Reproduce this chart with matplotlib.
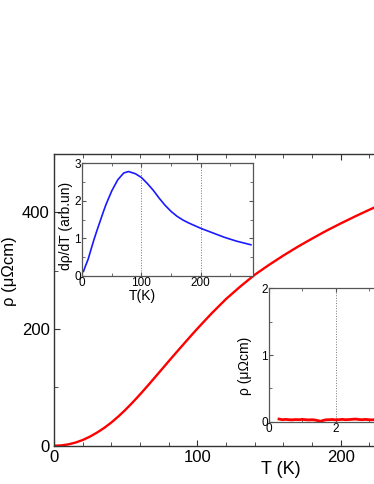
import matplotlib
matplotlib.use("Agg")
import matplotlib.pyplot as plt
from matplotlib.ticker import MultipleLocator

plt.rcParams['font.family'] = ['Liberation Sans', 'DejaVu Sans']

# main curve: resistivity vs temperature
T_main = [0, 5, 10, 15, 20, 25, 30, 35, 40, 45, 50, 55, 60, 65, 70, 75, 80, 85, 90,
          95, 100, 110, 120, 130, 140, 150, 160, 170, 180, 190, 200, 210, 220, 230,
          240, 250, 260, 270, 280, 290]
rho_main = [0, 0.5, 2.3, 5.4, 9.8, 15.5, 22.5, 30.5, 39.8, 50.4, 62, 74.6, 87.9, 101.8,
            116, 130.4, 144.8, 159, 173, 187, 200.7, 227, 251.5, 273, 293, 310, 326,
            341, 355, 368.5, 381, 393, 404.5, 415.5, 426, 436, 445.5, 454.5, 463, 471]

# inset: derivative
T_der = [2, 5, 10, 15, 20, 25, 30, 35, 40, 50, 60, 70, 78, 90, 100, 110, 120, 130, 140,
         150, 160, 170, 180, 190, 200, 210, 220, 230, 240, 250, 260, 270, 280, 285]
drho = [0.12, 0.25, 0.45, 0.72, 0.98, 1.22, 1.45, 1.68, 1.9, 2.27, 2.56, 2.74, 2.78, 2.72,
        2.62, 2.46, 2.28, 2.07, 1.88, 1.72, 1.59, 1.49, 1.41, 1.34, 1.27, 1.21, 1.15,
        1.09, 1.03, 0.98, 0.93, 0.89, 0.85, 0.83]

# inset: low temperature resistivity
T_low = [0.3, 0.4, 0.5, 0.6, 0.7, 0.8, 0.9, 1.0, 1.1, 1.2, 1.3, 1.4, 1.5, 1.55, 1.6, 1.7,
         1.8, 1.9, 2.0, 2.1, 2.2, 2.3, 2.4, 2.5, 2.6, 2.7, 2.8, 2.9, 3.0, 3.1, 3.2, 3.3,
         3.4, 3.5, 3.6, 3.7, 3.8, 3.9]
rho_low = [0.04, 0.03, 0.035, 0.03, 0.028, 0.033, 0.03, 0.035, 0.03, 0.027, 0.03, 0.024,
           0.012, 0.005, 0.015, 0.028, 0.03, 0.033, 0.028, 0.03, 0.035, 0.03, 0.032,
           0.036, 0.04, 0.033, 0.03, 0.035, 0.03, 0.028, 0.033, 0.03, 0.035, 0.03, 0.032,
           0.03, 0.034, 0.03]

fig = plt.figure(figsize=(3.74, 4.84), dpi=100)

frame = '#333333'

def style(ax, c, lw):
    for s in ax.spines.values():
        s.set_color(c)
        s.set_linewidth(lw)
    ax.tick_params(which='both', direction='in', top=True, right=True, color=c)

# main axes runs past the right edge, like the cropped original
ax = fig.add_axes([0.1444, 0.0791, 1.15, 0.6027])
ax.plot(T_main, rho_main, color='#ff0000', lw=1.7)
ax.set_xlim(0, 300)
ax.set_ylim(0, 500)
ax.set_xticks([0, 100, 200])
ax.set_yticks([0, 200, 400])
ax.xaxis.set_minor_locator(MultipleLocator(20))
ax.yaxis.set_minor_locator(MultipleLocator(100))
style(ax, frame, 1.0)
ax.tick_params(which='major', length=4, labelsize=12, pad=3)
ax.tick_params(which='minor', length=3)
ax.set_xlabel('T (K)', fontsize=13)
ax.xaxis.set_label_coords(0.528, -0.052)
ax.set_ylabel('ρ (μΩcm)', fontsize=12)
ax.yaxis.set_label_coords(-0.086, 0.6)

# derivative inset
ax1 = fig.add_axes([0.220, 0.4298, 0.4556, 0.2329])
ax1.plot(T_der, drho, color='#1a1aff', lw=1.2)
ax1.set_xlim(0, 288)
ax1.set_ylim(0, 3)
ax1.set_xticks([0, 100, 200])
ax1.set_yticks([0, 1, 2, 3])
ax1.xaxis.set_minor_locator(MultipleLocator(50))
ax1.yaxis.set_minor_locator(MultipleLocator(0.5))
ax1.grid(axis='x', which='major', ls=':', color='#777777', lw=0.7)
style(ax1, '#555555', 0.9)
ax1.tick_params(which='major', length=3, labelsize=8.5, pad=1)
ax1.tick_params(which='minor', length=2)
ax1.set_xlabel('T(K)', fontsize=10)
ax1.xaxis.set_label_coords(0.35, -0.115)
ax1.set_ylabel('dρ/dT (arb.un)', fontsize=10)
ax1.yaxis.set_label_coords(-0.055, 0.445)

# low temperature inset
ax2 = fig.add_axes([0.7193, 0.1287, 0.3556, 0.2756])
ax2.plot(T_low, rho_low, color='#ff0000', lw=2.0)
ax2.set_xlim(0, 4)
ax2.set_ylim(0, 2)
ax2.set_xticks([0, 2])
ax2.set_yticks([0, 1, 2])
ax2.xaxis.set_minor_locator(MultipleLocator(1))
ax2.yaxis.set_minor_locator(MultipleLocator(0.5))
ax2.grid(axis='x', which='major', ls=':', color='#777777', lw=0.7)
style(ax2, '#555555', 0.9)
ax2.tick_params(which='major', length=3, labelsize=8.5, pad=1)
ax2.tick_params(which='minor', length=2)
ax2.set_ylabel('ρ (μΩcm)', fontsize=10)
ax2.yaxis.set_label_coords(-0.13, 0.418)

fig.savefig('out.png', dpi=100)
